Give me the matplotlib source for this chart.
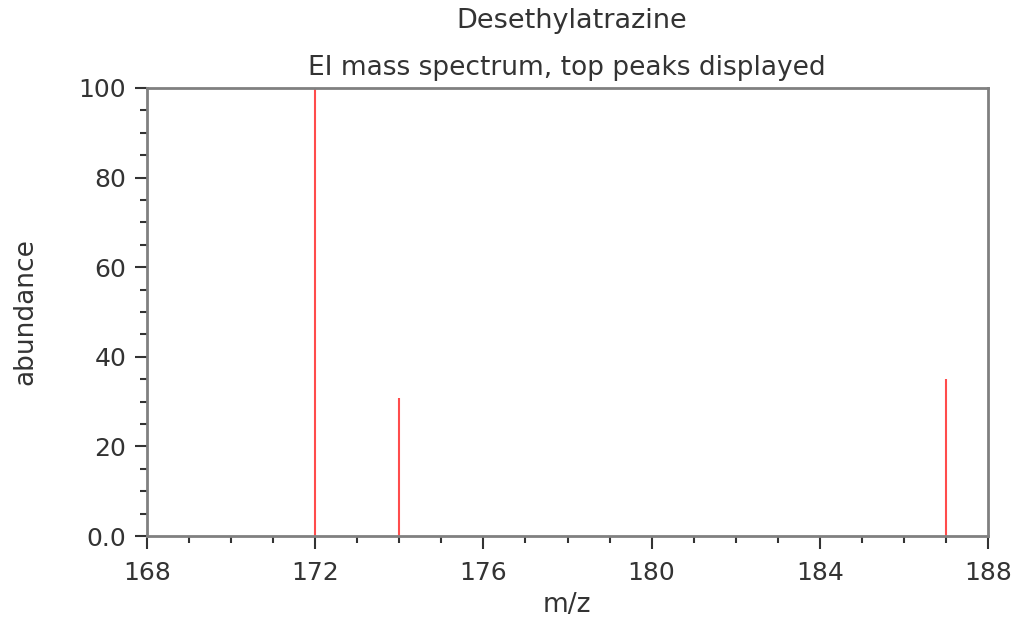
import numpy as np
import matplotlib.pyplot as plt
from matplotlib.ticker import MultipleLocator

# peaks
mz = [172, 174, 187]
abundance = [100, 30.7, 35.0]

y_ticks = [0, 20, 40, 60, 80, 100]
y_labels = ['0.0', '20', '40', '60', '80', '100']
x_ticks = [168, 172, 176, 180, 184, 188]

title = 'Desethylatrazine'
subtitle = 'EI mass spectrum, top peaks displayed'

spine_col = '#808080'
text_col = '#333333'

fig = plt.figure(figsize=(10.14, 6.2), dpi=100)
ax = fig.add_axes([147/1014, 1 - 536/620, (988-147)/1014, (536-88)/620])

ax.vlines(mz, 0, abundance, colors='#ff4c4c', linewidth=1.5)

ax.set_xlim(168, 188)
ax.set_ylim(0, 100)
ax.set_xticks(x_ticks)
ax.set_yticks(y_ticks)
ax.set_yticklabels(y_labels)
ax.xaxis.set_minor_locator(MultipleLocator(1))
ax.yaxis.set_minor_locator(MultipleLocator(5))

for s in ax.spines.values():
    s.set_color(spine_col)
    s.set_linewidth(2)

ax.tick_params(which='major', direction='out', length=9, width=1.5, color='#333333',
               labelsize=18, labelcolor=text_col)
ax.tick_params(axis='y', which='major', pad=6)
ax.tick_params(axis='x', which='major', pad=9)
ax.tick_params(which='minor', direction='out', length=5, width=1.5, color='#333333')

fig.text(567/1014, 1 - 605/620, 'm/z', ha='center', va='center', fontsize=19, color=text_col)
fig.text(25/1014, 1 - 312/620, 'abundance', ha='center', va='center', rotation=90,
         fontsize=19, color=text_col)

fig.text(572/1014, 1 - 28/620, title, ha='center', va='baseline', fontsize=19.5, color=text_col)
fig.text(567/1014, 1 - 75/620, subtitle, ha='center', va='baseline', fontsize=19, color=text_col)

fig.savefig('out.png', dpi=100)
